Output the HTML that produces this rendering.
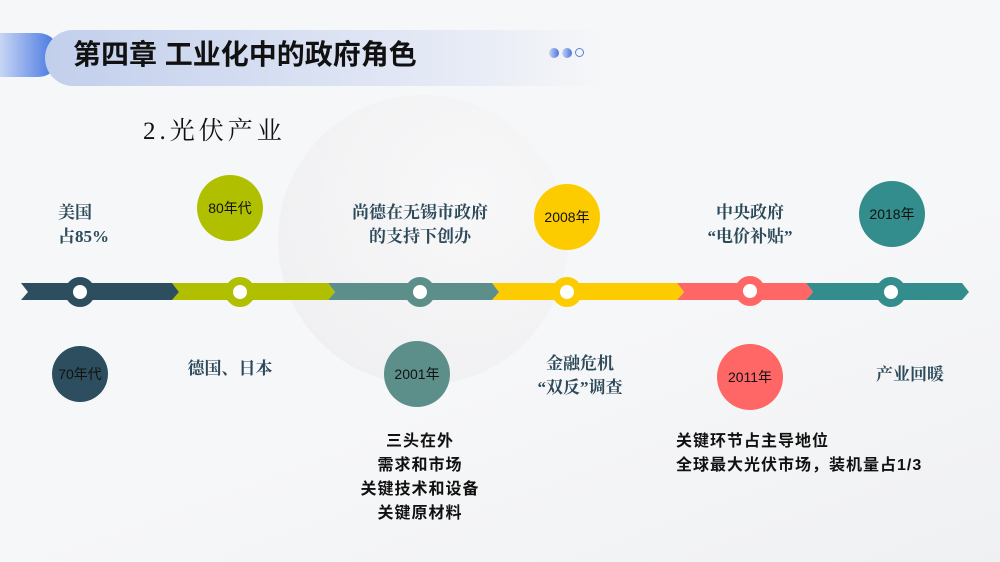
<!DOCTYPE html>
<html><head><meta charset="utf-8"><style>
body{margin:0;width:1000px;height:562px;overflow:hidden;background:#f6f7f8;position:relative;font-family:"Liberation Serif","Noto Serif CJK SC",serif;}
.abs{position:absolute}
.lbl{position:absolute;color:#2d4a5a;font-size:17px;line-height:24px;text-align:center;font-weight:bold;font-family:"Liberation Serif","Noto Serif CJK SC",serif}
.yr{position:absolute;border-radius:50%;display:flex;align-items:center;justify-content:center;font-family:"Liberation Sans","Noto Sans CJK SC",sans-serif;font-size:14px;color:#111}
.bt{position:absolute;font-family:"Liberation Sans","Noto Sans CJK SC",sans-serif;font-weight:bold;font-size:16px;line-height:24px;color:#111;letter-spacing:1px}
</style></head><body>
<div class="abs" style="left:278px;top:95px;width:290px;height:290px;border-radius:50%;background:radial-gradient(circle at 65% 35%,#f8f8f9,#ececee);opacity:0.8"></div>
<div class="abs" style="left:0;top:0;width:1000px;height:562px;background:linear-gradient(160deg,rgba(255,255,255,0) 60%,rgba(235,236,238,0.6) 100%)"></div>
<div class="abs" style="left:0;top:33px;width:60px;height:44px;border-radius:0 22px 22px 0;background:linear-gradient(90deg,#c8d6f4,#3d6fe0)"></div>
<div class="abs" style="left:45px;top:30px;width:560px;height:56px;border-radius:28px 0 0 28px;background:linear-gradient(90deg,#c2cfec,#e4e9f5 70%,rgba(246,247,248,0))"></div>
<div class="abs" style="left:73px;top:35px;font-family:'Liberation Sans','Noto Sans CJK SC',sans-serif;font-weight:bold;font-size:28px;color:#111;line-height:40px">第四章 工业化中的政府角色</div>
<div class="abs" style="left:549px;top:48px;width:10px;height:10px;border-radius:50%;background:linear-gradient(90deg,#c8d4f4,#4a74dc)"></div>
<div class="abs" style="left:562px;top:48px;width:10px;height:10px;border-radius:50%;background:linear-gradient(90deg,#c8d4f4,#4a74dc)"></div>
<div class="abs" style="left:575px;top:48px;width:7px;height:7px;border-radius:50%;border:1.5px solid #5a80dc"></div>
<div class="abs" style="left:143px;top:116px;font-size:25px;color:#111;line-height:32px;letter-spacing:4px;font-family:'Liberation Serif','Noto Serif CJK SC',serif">2.光伏产业</div>
<svg class="abs" style="left:0;top:0" width="1000" height="562">
<polygon points="806,283 962,283 969,292 962,300 806,300 813,292" fill="#338d8c"/>
<polygon points="677,283 806,283 813,292 806,300 677,300 684,292" fill="#ff6666"/>
<polygon points="492,283 677,283 684,292 677,300 492,300 499,292" fill="#fccc00"/>
<polygon points="328,283 492,283 499,292 492,300 328,300 335,292" fill="#5d8f8a"/>
<polygon points="172,283 328,283 335,292 328,300 172,300 179,292" fill="#b0c000"/>
<polygon points="21,283 172,283 179,292 172,300 21,300 28,292" fill="#2d4e5e"/>
<g fill="#fff" stroke-width="8">
<circle cx="80" cy="292" r="11" stroke="#2d4e5e"/>
<circle cx="240" cy="292" r="11" stroke="#b0c000"/>
<circle cx="420" cy="292" r="11" stroke="#5d8f8a"/>
<circle cx="567" cy="292" r="11" stroke="#fccc00"/>
<circle cx="750" cy="291" r="11" stroke="#ff6666"/>
<circle cx="891" cy="292" r="11" stroke="#338d8c"/>
</g></svg>
<div class="yr" style="left:52px;top:346px;width:56px;height:56px;background:#2d4e5e;">70年代</div>
<div class="yr" style="left:197px;top:175px;width:66px;height:66px;background:#b0c000;">80年代</div>
<div class="yr" style="left:384px;top:341px;width:66px;height:66px;background:#5d8f8a;">2001年</div>
<div class="yr" style="left:534px;top:184px;width:66px;height:66px;background:#fccc00;">2008年</div>
<div class="yr" style="left:717px;top:344px;width:66px;height:66px;background:#ff6666;">2011年</div>
<div class="yr" style="left:859px;top:181px;width:66px;height:66px;background:#338d8c;">2018年</div>
<div class="lbl" style="left:58px;top:201px;text-align:left">美国<br>占85%</div>
<div class="lbl" style="left:330px;top:201px;width:180px">尚德在无锡市政府<br>的支持下创办</div>
<div class="lbl" style="left:690px;top:201px;width:120px">中央政府<br>“电价补贴”</div>
<div class="lbl" style="left:170px;top:357px;width:120px">德国、日本</div>
<div class="lbl" style="left:520px;top:352px;width:120px">金融危机<br>“双反”调查</div>
<div class="lbl" style="left:850px;top:363px;width:120px">产业回暖</div>
<div class="bt" style="left:330px;top:430px;width:180px;text-align:center">三头在外<br>需求和市场<br>关键技术和设备<br>关键原材料</div>
<div class="bt" style="left:676px;top:430px;">关键环节占主导地位<br>全球最大光伏市场，装机量占1/3</div>
</body></html>
